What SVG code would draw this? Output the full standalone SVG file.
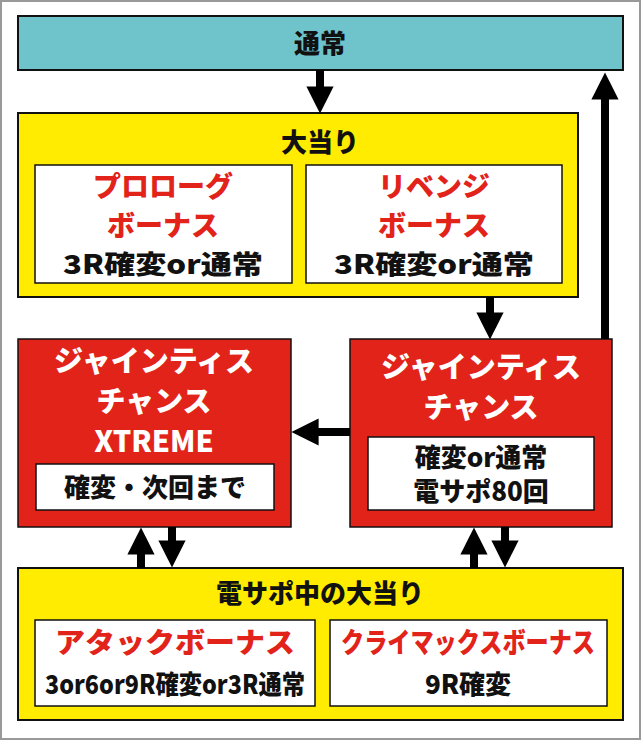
<svg xmlns="http://www.w3.org/2000/svg" width="641" height="740" viewBox="0 0 641 740">
<style>
text{font-family:"Noto Sans CJK JP","Noto Sans",sans-serif;font-weight:900;text-anchor:middle}
.k{fill:#111;font-size:26px}
.r{fill:#e2231a;font-size:28px}
.w{fill:#fff;font-size:29px}
.y{fill:#ffec00;stroke:#111;stroke-width:2}
.wb{fill:#fff;stroke:#111;stroke-width:1.5}
.rd{fill:#e2231a;stroke:#111;stroke-width:1.5}
.ln{stroke:#000;stroke-width:8;fill:none}
</style>
<defs><marker id="a" viewBox="0 0 10 10" refX="5" refY="5" markerWidth="3.4" markerHeight="3.4" orient="auto"><path d="M0,0L10,5L0,10z" fill="#000"/></marker></defs>
<rect x="1" y="1" width="639" height="738" fill="#fff" stroke="#999" stroke-width="2"/>
<g id="tsujo"><rect x="18" y="16" width="605" height="54" fill="#6fc4cc" stroke="#111" stroke-width="2"/><text class="k" x="320" y="53" font-size="29">通常</text></g>
<g id="ooatari"><rect class="y" x="18" y="113" width="560" height="184"/><text class="k" x="320" y="152" font-size="30">大当り</text>
<rect class="wb" x="35" y="165" width="257" height="118"/><text class="r" x="163" y="197">プロローグ</text><text class="r" x="163" y="236">ボーナス</text><text class="k" x="163" y="274" textLength="200" lengthAdjust="spacingAndGlyphs">3R確変or通常</text>
<rect class="wb" x="306" y="165" width="256" height="118"/><text class="r" x="434" y="197">リベンジ</text><text class="r" x="434" y="236">ボーナス</text><text class="k" x="434" y="274" textLength="200" lengthAdjust="spacingAndGlyphs">3R確変or通常</text></g>
<g id="xtreme"><rect class="rd" x="18" y="339" width="273" height="188"/><text class="w" x="154" y="372">ジャインティス</text><text class="w" x="154" y="412">チャンス</text><text class="w" x="154" y="452">XTREME</text>
<rect class="wb" x="36" y="464" width="238" height="46"/><text class="k" x="155" y="497">確変・次回まで</text></g>
<g id="chance"><rect class="rd" x="350" y="339" width="262" height="188"/><text class="w" x="481" y="378">ジャインティス</text><text class="w" x="481" y="418">チャンス</text>
<rect class="wb" x="368" y="437" width="226" height="73"/><text class="k" x="481" y="467">確変or通常</text><text class="k" x="481" y="501">電サポ80回</text></g>
<g id="densapo"><rect class="y" x="18" y="568" width="605" height="152"/><text class="k" x="320" y="603" font-size="29">電サポ中の大当り</text>
<rect class="wb" x="35" y="620" width="280" height="86"/><text class="r" x="175" y="653" font-size="27" textLength="240" lengthAdjust="spacingAndGlyphs">アタックボーナス</text><text class="k" x="175" y="694" font-size="24" textLength="260" lengthAdjust="spacingAndGlyphs">3or6or9R確変or3R通常</text>
<rect class="wb" x="330" y="620" width="277" height="86"/><text class="r" x="468" y="653" font-size="25" textLength="254" lengthAdjust="spacingAndGlyphs">クライマックスボーナス</text><text class="k" x="468" y="694">9R確変</text></g>
<g id="connectors">
<line class="ln" x1="320" y1="70" x2="320" y2="100" marker-end="url(#a)"/>
<line class="ln" x1="490" y1="297" x2="490" y2="326" marker-end="url(#a)"/>
<line class="ln" x1="350" y1="432" x2="305" y2="432" marker-end="url(#a)"/>
<line class="ln" x1="605" y1="339" x2="605" y2="86" marker-end="url(#a)"/>
<line class="ln" x1="141" y1="568" x2="141" y2="541" marker-end="url(#a)"/>
<line class="ln" x1="172" y1="527" x2="172" y2="554" marker-end="url(#a)"/>
<line class="ln" x1="474" y1="568" x2="474" y2="541" marker-end="url(#a)"/>
<line class="ln" x1="505" y1="527" x2="505" y2="554" marker-end="url(#a)"/>
</g>
</svg>
